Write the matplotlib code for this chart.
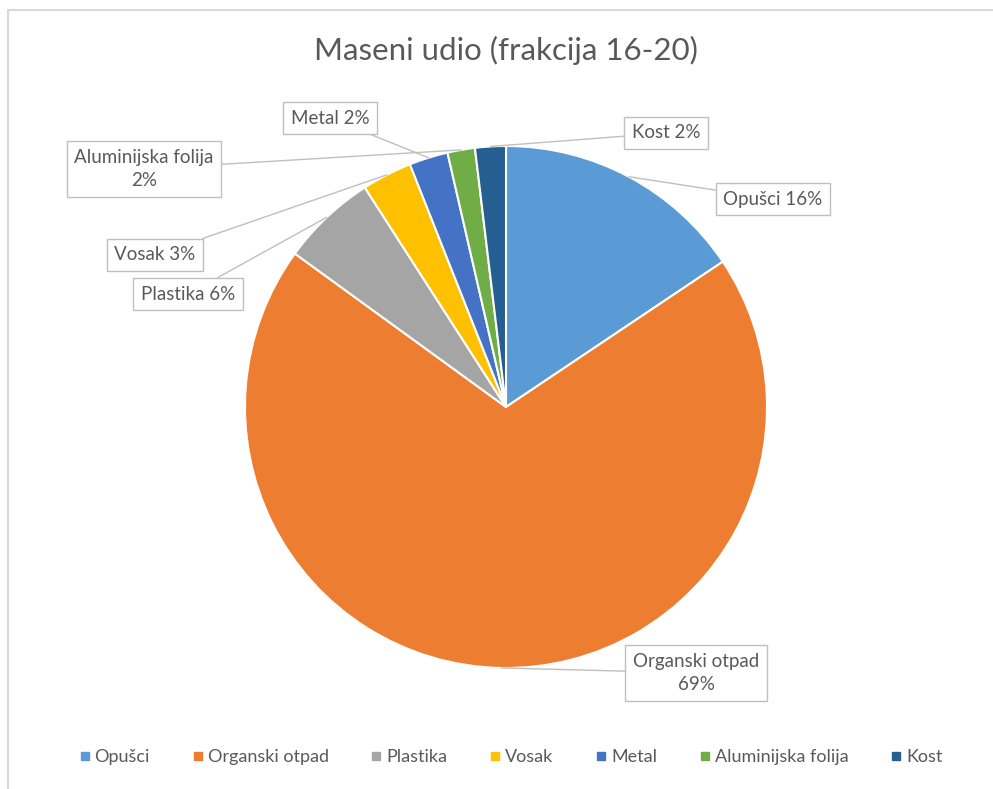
import numpy as np
import matplotlib
matplotlib.use('Agg')
from matplotlib import pyplot as plt
from matplotlib.lines import Line2D
from matplotlib.patches import Rectangle

plt.rcParams['font.family'] = ['Lato', 'DejaVu Sans']

# data
categories = ['Opušci', 'Organski otpad', 'Plastika', 'Vosak', 'Metal',
              'Aluminijska folija', 'Kost']
values = [15.6, 69.4, 5.9, 3.1, 2.4, 1.7, 1.9]
colors = ['#5B9BD5', '#ED7D31', '#A5A5A5', '#FFC000', '#4472C4', '#70AD47', '#255E91']
title = 'Maseni udio (frakcija 16-20)'

# layout (pixels of the 993x789 figure)
W, H = 993, 789
cx, cy, R = 506, 407, 261
label_px = [(773, 199), (696, 673), (188, 294), (155, 255), (330, 118),
            (144, 169), (666, 133)]
two_line = {'Organski otpad', 'Aluminijska folija'}

txt_col = '#595959'
fig = plt.figure(figsize=(W/100, H/100), dpi=100)
ax = fig.add_axes([(cx-R)/W, (H-cy-R)/H, 2*R/W, 2*R/H])
wedges, _ = ax.pie(values, colors=colors, startangle=90, counterclock=False,
                   radius=1, wedgeprops=dict(edgecolor='white', linewidth=1.5))
ax.set_xlim(-1, 1)
ax.set_ylim(-1, 1)
ax.set_aspect('equal')
ax.axis('off')

for w, name, v, (px, py) in zip(wedges, categories, values, label_px):
    mid = np.deg2rad((w.theta1 + w.theta2) / 2)
    sep = '\n' if name in two_line else ' '
    lx, ly = (px-cx)/R, (cy-py)/R
    ax.annotate(f'{name}{sep}{round(v)}%', xy=(np.cos(mid), np.sin(mid)),
                xytext=(lx, ly), ha='center', va='center', fontsize=13.5,
                color=txt_col, annotation_clip=False, linespacing=1.5,
                bbox=dict(boxstyle='square,pad=0.4', fc='white', ec='#BFBFBF', lw=1),
                arrowprops=dict(arrowstyle='-', color='#BFBFBF', lw=1,
                                shrinkA=0, shrinkB=0))

fig.text(0.51, 1-50/H, title, ha='center', va='center', fontsize=22.5, color=txt_col)

handles = [Line2D([], [], marker='s', linestyle='none', markersize=6,
                  markerfacecolor=c, markeredgecolor=c) for c in colors]
fig.legend(handles, categories, loc='center', bbox_to_anchor=(0.515, 1-757/H),
           ncol=7, frameon=False, handlelength=0.5, handletextpad=0.3,
           columnspacing=2.4, fontsize=13, labelcolor=txt_col)

fig.patches.append(Rectangle((8/W, -0.1), 1.2, (H-10)/H + 0.1, transform=fig.transFigure,
                             fill=False, edgecolor='#D9D9D9', lw=1.5))

fig.savefig('out.png', dpi=100)
